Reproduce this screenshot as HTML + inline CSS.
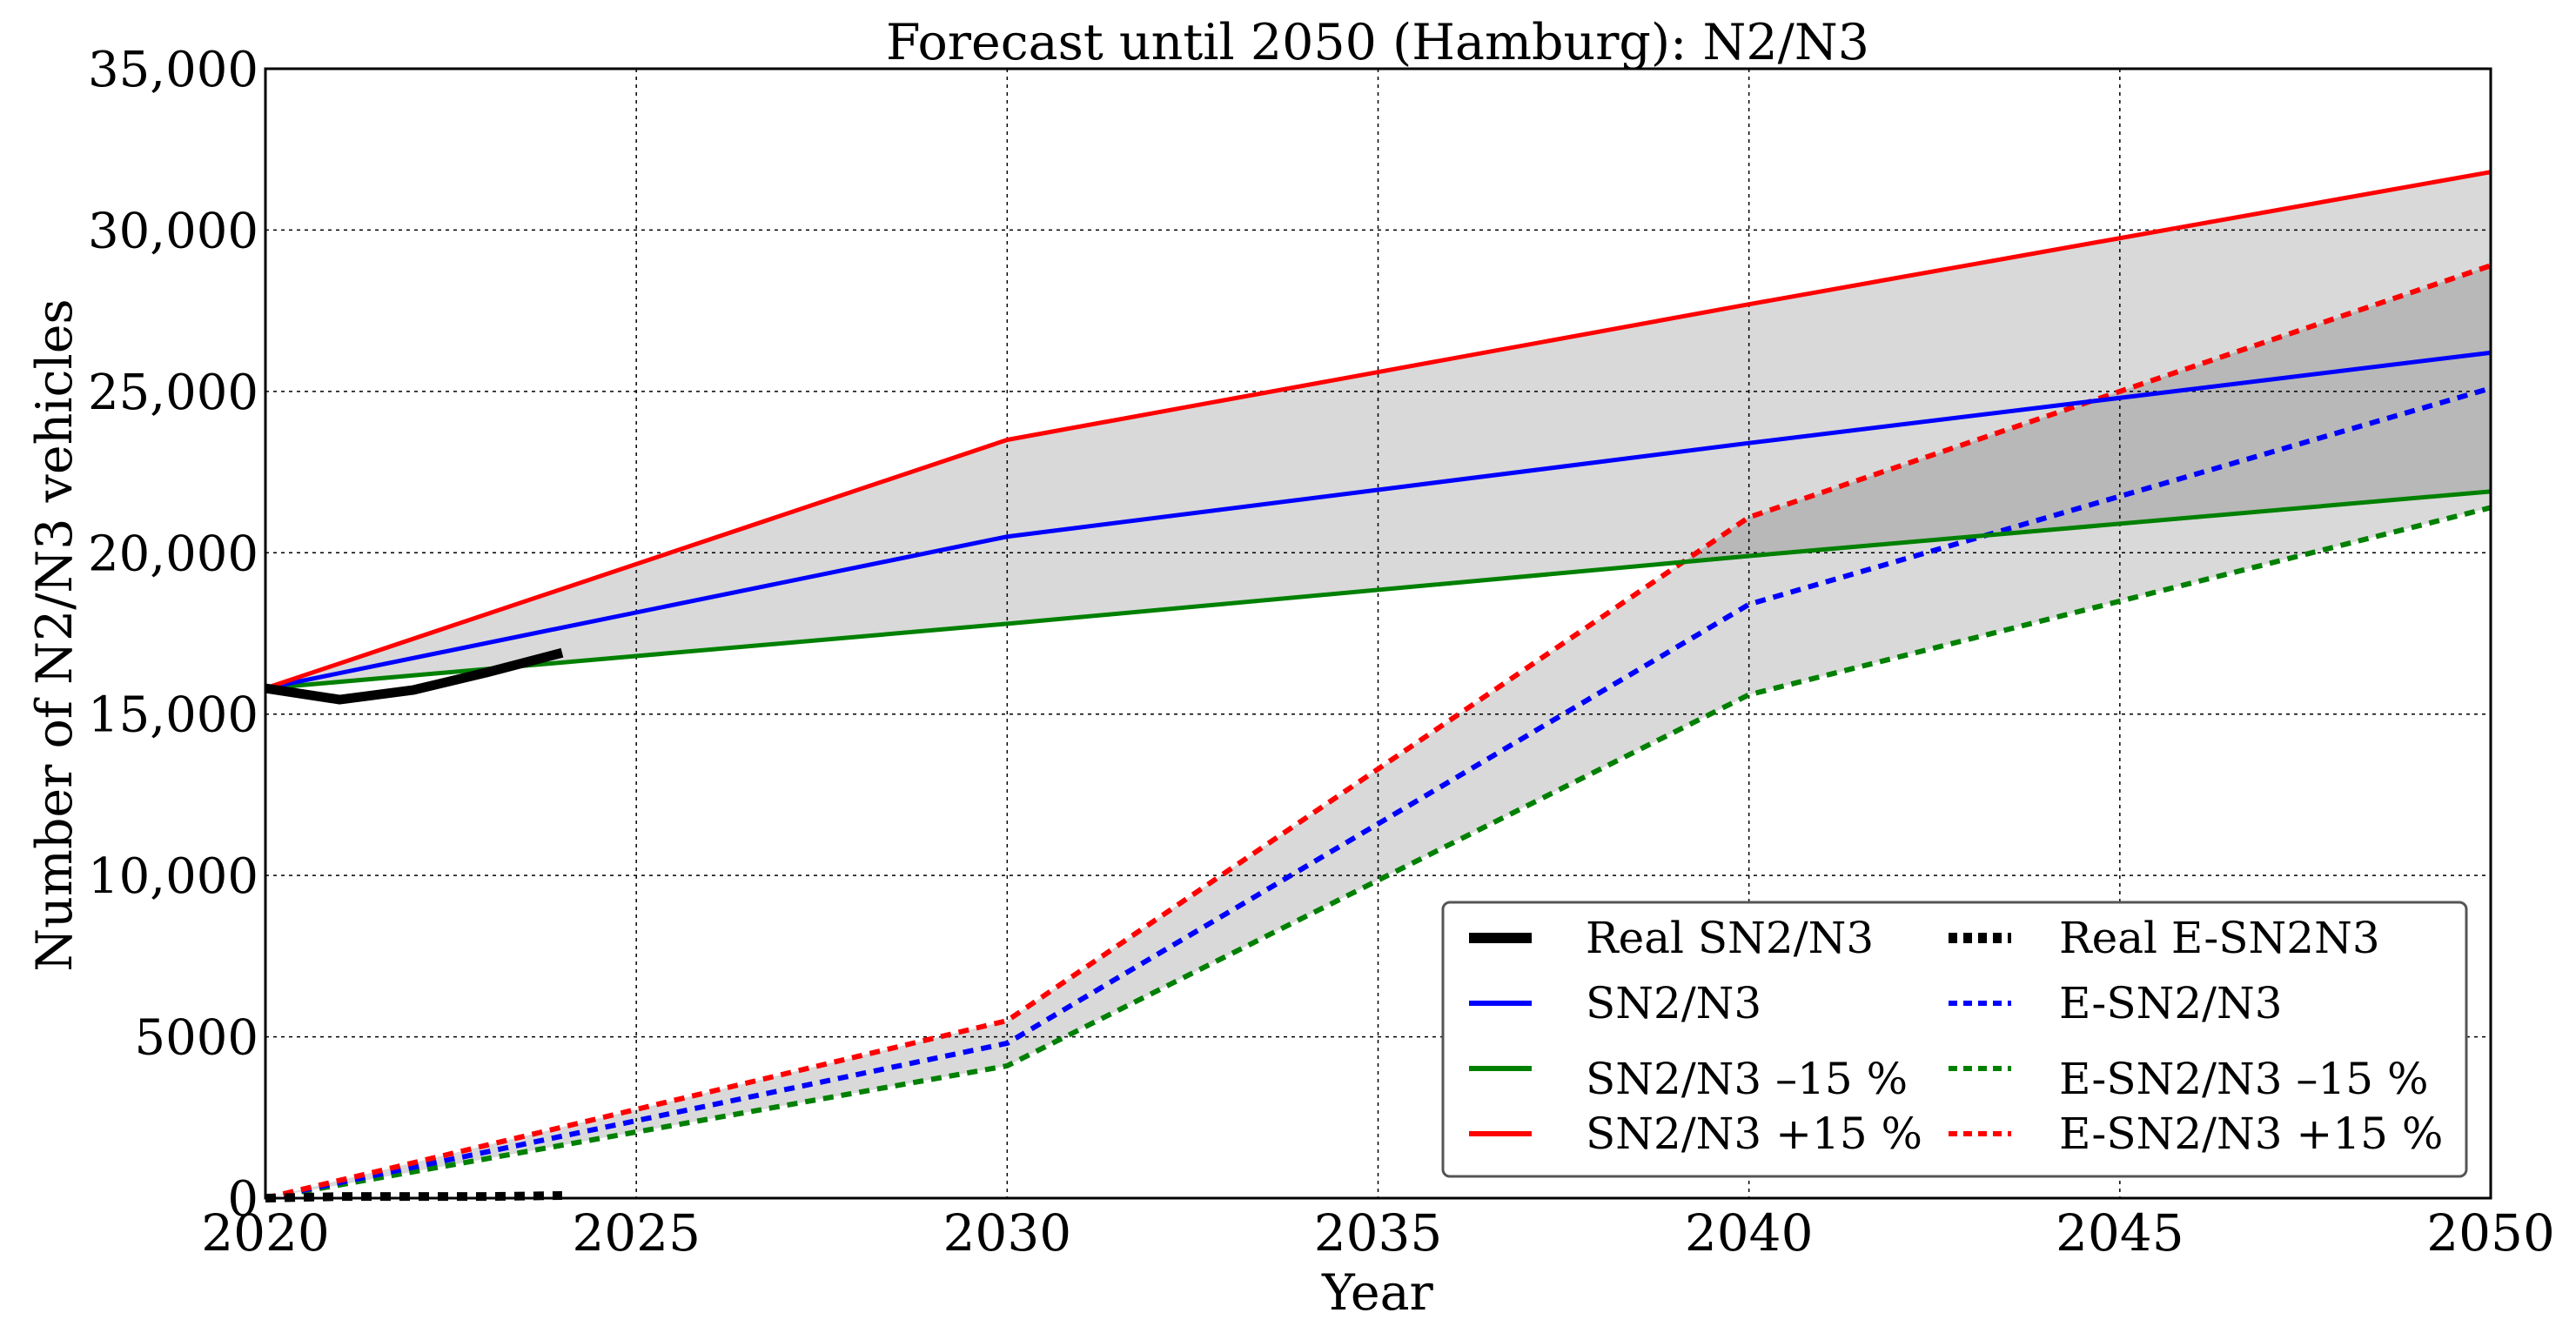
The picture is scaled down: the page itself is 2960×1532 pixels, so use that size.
<!DOCTYPE html>
<html><head><meta charset="utf-8"><style>
html,body{margin:0;padding:0;background:#fff;}
svg{display:block;font-family:"DejaVu Serif","Liberation Serif",serif;}
</style></head><body>
<svg id="chart" width="2960" height="1532" viewBox="0 0 2960 1532" xmlns="http://www.w3.org/2000/svg">
<rect width="2960" height="1532" fill="#fff"/>
<g id="grid"></g>
<g id="fills"></g>
<g id="lines"></g>
<rect x="305" y="79" width="2557" height="1298" fill="none" stroke="#000" stroke-width="3"/>
<g id="ticks" font-size="58"></g>
<text x="1583" y="68" font-size="57" text-anchor="middle">Forecast until 2050 (Hamburg): N2/N3</text>
<text x="1583" y="1505" font-size="57" text-anchor="middle">Year</text>
<text transform="translate(82,730) rotate(-90)" font-size="57" text-anchor="middle">Number of N2/N3 vehicles</text>
<g id="legend">
<rect x="1658" y="1037" width="1176" height="315" rx="8" fill="#fff" stroke="#555" stroke-width="3"/>
</g>
</svg>
<script>
const realYears=[2020,2021,2022,2023,2024];
const realSN=[15800,15450,15750,16300,16900];
const realE=[0,50,50,50,80];
const years=[2020,2030,2040,2050];
const sn=[15800,20500,23400,26200];
const snLow=[15800,17800,19900,21900];
const snHigh=[15800,23500,27700,31800];
const eSn=[0,4800,18400,25100];
const eLow=[0,4100,15600,21400];
const eHigh=[0,5500,21100,28900];
const xTicks=[2020,2025,2030,2035,2040,2045,2050];
const yTicks=[0,5000,10000,15000,20000,25000,30000,35000];
const yTickLabels=["0","5000","10,000","15,000","20,000","25,000","30,000","35,000"];

const L=305,R=2862,T=79,B=1377;
const X=v=>L+(v-2020)/30*(R-L);
const Y=v=>B-v/35000*(B-T);
const NS="http://www.w3.org/2000/svg";
function mk(tag,parent,attrs){const e=document.createElementNS(NS,tag);for(const k in attrs)e.setAttribute(k,attrs[k]);parent.appendChild(e);return e;}
const grid=document.getElementById('grid'),fills=document.getElementById('fills'),lines=document.getElementById('lines'),ticks=document.getElementById('ticks'),legend=document.getElementById('legend');

xTicks.forEach(t=>{
  const g=mk('line',grid,{x1:X(t),x2:X(t),y1:T,y2:B,stroke:'#000','stroke-width':1.5,'stroke-dasharray':'4,5'});
  
  
  const tx=mk('text',ticks,{x:X(t),y:1437,'text-anchor':'middle'});
  tx.textContent=t;
  
  
});
yTicks.forEach((t,i)=>{
  const g=mk('line',grid,{x1:L,x2:R,y1:Y(t),y2:Y(t),stroke:'#000','stroke-width':1.5,'stroke-dasharray':'4,5'});
  
  
  const tx=mk('text',ticks,{x:297,y:Y(t)+20,'text-anchor':'end','font-size':56});
  tx.textContent=yTickLabels[i];
  
  
});

function band(lo,hi,name){
  let d='M'+years.map((y,i)=>X(y)+','+Y(hi[i])).join(' L');
  d+=' L'+years.slice().reverse().map((y,i)=>X(y)+','+Y(lo[lo.length-1-i])).join(' L')+' Z';
  const p=mk('path',fills,{d:d,fill:'rgba(0,0,0,0.15)',stroke:'none'});
  
  
}
band(snLow,snHigh,'sn-band');
band(eLow,eHigh,'e-band');

function line(xs,vals,color,w,dash,name){
  const p=mk('polyline',lines,{points:xs.map((y,i)=>X(y)+','+Y(vals[i])).join(' '),fill:'none',stroke:color,'stroke-width':w,'stroke-linejoin':'round'});
  if(dash)p.setAttribute('stroke-dasharray',dash);
  
  
}
line(years,eLow,'#008000',6,'12,9','line-e-sn-low');
line(years,eSn,'#0000ff',6,'12,9','line-e-sn');
line(years,eHigh,'#ff0000',6,'12,9','line-e-sn-high');
line(years,snLow,'#008000',5,null,'line-sn-low');
line(years,sn,'#0000ff',5,null,'line-sn');
line(years,snHigh,'#ff0000',5,null,'line-sn-high');
line(realYears,realSN,'#000',11,null,'line-real-sn');
line(realYears,realE,'#000',10,'12,10','line-real-e');

const ent=[
 ['Real SN2/N3','#000',12,null,0,1078,1095],
 ['SN2/N3','#0000ff',6,null,0,1153,1170],
 ['SN2/N3 \u201315 %','#008000',6,null,0,1228,1257],
 ['SN2/N3 +15 %','#ff0000',6,null,0,1303,1320],
 ['Real E-SN2N3','#000',12,'10,7',1,1078,1095],
 ['E-SN2/N3','#0000ff',6,'10,7',1,1153,1170],
 ['E-SN2/N3 \u201315 %','#008000',6,'10,7',1,1228,1257],
 ['E-SN2/N3 +15 %','#ff0000',6,'10,7',1,1303,1320]
];
ent.forEach(e=>{
  const lx=e[4]?2239:1688, tx=e[4]?2366:1822;
  const ln=mk('line',legend,{x1:lx,x2:lx+72,y1:e[5],y2:e[5],stroke:e[1],'stroke-width':e[2]});
  if(e[3])ln.setAttribute('stroke-dasharray',e[3]);
  
  
  const t=mk('text',legend,{x:tx,y:e[6],'font-size':50});
  t.textContent=e[0];
  
  
});
</script>
</body></html>
